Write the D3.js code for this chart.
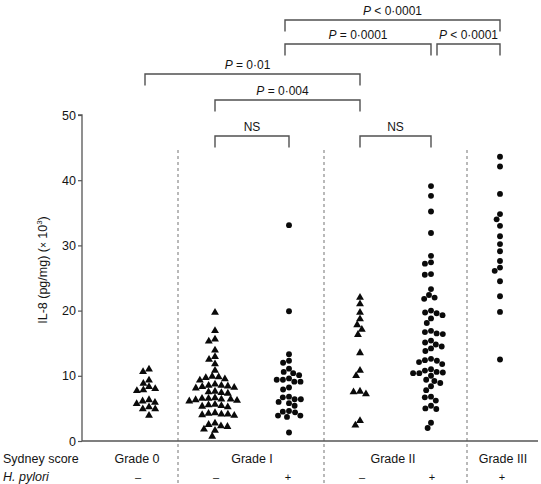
<!DOCTYPE html>
<html>
<head>
<meta charset="utf-8">
<script src="https://cdn.jsdelivr.net/npm/d3@7/dist/d3.min.js"></script>
<style>
  html, body { margin: 0; padding: 0; background: #fff; }
  svg text { font-family: "Liberation Sans", Arial, sans-serif; fill: #141414; }
</style>
</head>
<body>
<svg id="chart" width="541" height="484"></svg>
<script>
// ---------------- DATA ----------------
const grades = ["Grade 0", "Grade I", "Grade II", "Grade III"];
const columns = ["G0-", "GI-", "GI+", "GII-", "GII+", "GIII+"];
const columnSign = ["\u2013", "\u2013", "+", "\u2013", "+", "+"];
const columnMarker = ["triangle", "triangle", "circle", "triangle", "circle", "circle"];
const yTicks = [0, 10, 20, 30, 40, 50];

const grade0Neg = [11.1, 10.7, 9.4, 8.9, 8.4, 7.9, 7.8, 8.1, 6.4, 6.2, 6.0, 5.8, 5.3, 5.0, 5.0, 4.0];
const gradeINeg = [19.8, 17.0, 15.7, 15.4, 14.0, 13.0, 12.6, 11.9, 10.9, 10.0, 9.8, 9.9, 9.6, 9.4,
  8.8, 8.6, 8.4, 8.3, 8.5, 8.2, 8.6, 7.7, 7.5, 7.6, 7.4, 6.6, 6.5, 6.4, 6.7, 6.3, 6.5, 6.6, 6.2,
  5.6, 5.5, 5.4, 5.3, 5.7, 4.3, 4.2, 4.1, 4.2, 4.4, 4.0, 2.6, 2.8, 2.4, 2.3, 1.9, 1.7, 0.8];
const gradeIPos = [33.1, 19.9, 13.3, 12.3, 12.0, 11.1, 10.6, 10.1, 10.4, 9.4, 9.1, 9.4, 9.1, 9.6,
  8.2, 7.9, 6.8, 6.4, 6.7, 6.4, 5.8, 5.4, 6.0, 4.6, 4.4, 4.5, 3.9, 3.7, 3.9, 1.3];
const gradeIINeg = [22.1, 21.1, 19.8, 18.8, 17.9, 17.2, 16.4, 13.6, 10.9, 10.1, 7.7, 7.3, 7.6, 3.2, 2.5];
const gradeIIPos = [39.1, 37.6, 35.2, 31.9, 28.4, 27.4, 27.2, 25.5, 25.6, 23.3, 22.4, 21.8, 22.0,
  20.0, 19.6, 19.3, 19.7, 18.1, 18.8, 16.9, 16.4, 16.5, 16.7, 15.1, 15.4, 14.8, 14.2, 14.5, 13.8,
  12.4, 12.1, 12.3, 12.6, 11.8, 10.4, 10.8, 10.4, 10.5, 10.6, 11.0, 10.0, 8.9, 9.4, 9.2, 8.4, 7.8,
  6.8, 6.7, 6.2, 5.4, 5.0, 4.9, 2.8, 2.0];
const gradeIIIPos = [43.6, 42.1, 37.9, 34.8, 34.0, 33.0, 31.4, 30.2, 29.1, 27.6, 26.1, 26.6, 24.5, 22.2, 19.8, 12.5];

const seriesValues = [grade0Neg, gradeINeg, gradeIPos, gradeIINeg, gradeIIPos, gradeIIIPos];

// comparisons: [from column, to column, operator, p value, level]
const comparisons = [
  ["GI+", "GIII+", "<", "0\u00b70001", 0],
  ["GI+", "GII+", "=", "0\u00b70001", 1],
  ["GII+", "GIII+", "<", "0\u00b70001", 1],
  ["G0-", "GII-", "=", "0\u00b701", 2],
  ["GI-", "GII-", "=", "0\u00b7004", 3],
  ["GI-", "GI+", "NS", "", 4],
  ["GII-", "GII+", "NS", "", 4]
];

// ---------------- LAYOUT ----------------
const svg = d3.select("#chart");
const plot = { left: 82, right: 538, top: 115, bottom: 441 };
const colX = d3.scaleOrdinal().domain(columns).range([149, 215, 289, 360, 431, 500]);
const gradeLabelX = d3.scaleOrdinal().domain(grades).range([137, 252, 393, 503]);
const signX = d3.scaleOrdinal().domain(columns).range([138, 216, 288, 362, 432, 502]);
const separators = [178, 324, 467];
const y = d3.scaleLinear().domain([0, 50]).range([plot.bottom, plot.top]);
const levelY = [20, 44, 74, 100, 136];
const bracketDrop = 11.5;
const axisColor = "#555";

// separators (dashed)
svg.append("g").selectAll("line").data(separators).join("line")
  .attr("x1", d => d).attr("x2", d => d)
  .attr("y1", 150).attr("y2", 484)
  .attr("stroke", "#808080").attr("stroke-width", 1.1)
  .attr("stroke-dasharray", "3,3");

// y axis
const yAxis = d3.axisLeft(y).tickValues(yTicks).tickSize(4).tickPadding(2);
const gy = svg.append("g").attr("transform", `translate(${plot.left},0)`).call(yAxis);
gy.select(".domain").attr("stroke", axisColor).attr("stroke-width", 1.3).attr("d", `M-4,${plot.top}H0V${plot.bottom}`);
gy.selectAll(".tick line").attr("stroke", axisColor).attr("stroke-width", 1.2);
gy.selectAll(".tick text").attr("font-size", 12.5).attr("fill", "#141414")
  .style("font-family", "'Liberation Sans', Arial, sans-serif");

// x axis line
svg.append("line").attr("x1", plot.left).attr("x2", plot.right)
  .attr("y1", plot.bottom).attr("y2", plot.bottom)
  .attr("stroke", axisColor).attr("stroke-width", 1.3);

// y label
const yl = svg.append("text")
  .attr("transform", `translate(47,270) rotate(-90)`)
  .attr("text-anchor", "middle").attr("font-size", 12.5);
yl.append("tspan").text("IL-8 (pg/mg) (");
yl.append("tspan").attr("font-size", 10).text("\u00d7");
yl.append("tspan").text(" 10");
yl.append("tspan").attr("font-size", 8).attr("dy", -5).text("3");
yl.append("tspan").attr("dy", 5).text(")");

// bottom labels
svg.append("text").attr("x", 3).attr("y", 463).attr("font-size", 12.5).text("Sydney score");
svg.append("text").attr("x", 3).attr("y", 481).attr("font-size", 12.5).attr("font-style", "italic").text("H. pylori");
svg.append("g").selectAll("text").data(grades).join("text")
  .attr("x", d => gradeLabelX(d)).attr("y", 463)
  .attr("text-anchor", "middle").attr("font-size", 12.5).text(d => d);
svg.append("g").selectAll("text").data(columns).join("text")
  .attr("x", d => signX(d)).attr("y", 481)
  .attr("text-anchor", "middle").attr("font-size", 11).text((d, i) => columnSign[i]);

// swarm layout
function swarm(values, D) {
  const pts = values.map(v => ({ v, py: y(v), dx: 0 }))
    .sort((a, b) => b.v - a.v);
  const placed = [];
  for (const p of pts) {
    const near = placed.filter(q => Math.abs(q.py - p.py) < D);
    const cands = [0];
    for (const q of near) {
      const w = Math.sqrt(D * D - (q.py - p.py) ** 2) + 0.01;
      cands.push(q.dx + w, q.dx - w);
    }
    cands.sort((a, b) => Math.abs(a) - Math.abs(b) || a - b);
    for (const c of cands) {
      if (near.every(q => Math.hypot(q.dx - c, q.py - p.py) >= D - 0.001)) { p.dx = c; break; }
    }
    placed.push(p);
  }
  return placed;
}

const markGroup = svg.append("g");
columns.forEach((col, i) => {
  const isTri = columnMarker[i] === "triangle";
  const pts = swarm(seriesValues[i], isTri ? 6.5 : 6.2);
  const sym = d3.symbol().type(isTri ? d3.symbolTriangle : d3.symbolCircle).size(isTri ? 27 : 27);
  markGroup.append("g").selectAll("path").data(pts).join("path")
    .attr("d", sym)
    .attr("transform", d => `translate(${colX(col) + d.dx},${d.py + (isTri ? 0.6 : 0)})`)
    .attr("fill", "#0a0a0a");
});

// brackets
const bg = svg.append("g");
comparisons.forEach(([a, b, op, val, lvl]) => {
  let x1 = colX(a), x2 = colX(b);
  const sameLevel = comparisons.filter(c => c[4] === lvl);
  if (sameLevel.some(c => c[1] === a)) x1 += 6;
  if (a === "G0-") x1 -= 4;
  if (a === "GI+") x1 -= 4;
  const ly = levelY[lvl];
  bg.append("path")
    .attr("d", `M${x1},${ly + bracketDrop}V${ly}H${x2}V${ly + bracketDrop}`)
    .attr("fill", "none").attr("stroke", "#505050").attr("stroke-width", 1.4);
  const t = bg.append("text").attr("x", (x1 + x2) / 2 - (lvl >= 2 && lvl <= 3 ? 5 : 0))
    .attr("y", ly - 5).attr("text-anchor", "middle").attr("font-size", 12);
  if (op === "NS") {
    t.text("NS");
  } else {
    t.append("tspan").attr("font-style", "italic").text("P");
    t.append("tspan").text(` ${op} ${val}`);
  }
});
</script>
</body>
</html>
